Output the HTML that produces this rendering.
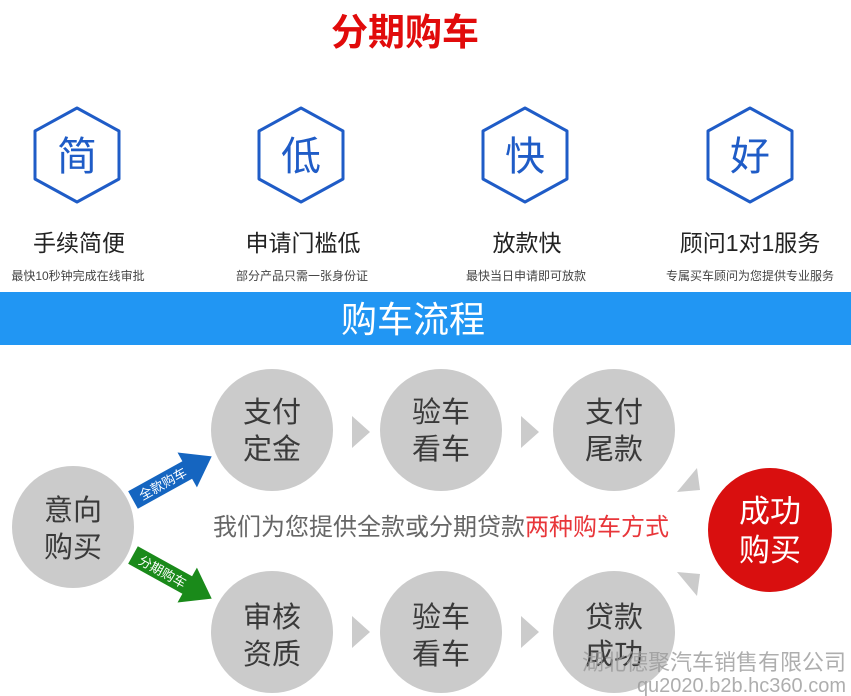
<!DOCTYPE html>
<html><head><meta charset="utf-8"><style>
body{margin:0;width:851px;height:696px;overflow:hidden;background:#fff;font-family:"Liberation Sans","Noto Sans CJK SC",sans-serif;}
</style></head><body>
<svg width="851" height="696" xmlns="http://www.w3.org/2000/svg" style="position:absolute;left:0;top:0" font-family="Liberation Sans, Noto Sans CJK SC, sans-serif">
<text x="405" y="45" text-anchor="middle" font-size="37" font-weight="bold" fill="#e10b0b">分期购车</text>
<g fill="none" stroke="#1f5cc7" stroke-width="3" stroke-linejoin="round">
<polygon points="77,108 119,131 119,179 77,202 35,179 35,131"/>
<polygon points="301,108 343,131 343,179 301,202 259,179 259,131"/>
<polygon points="525,108 567,131 567,179 525,202 483,179 483,131"/>
<polygon points="750,108 792,131 792,179 750,202 708,179 708,131"/>
</g>
<g font-size="40" fill="#1f5cc7" text-anchor="middle">
<text x="77" y="170">简</text><text x="301" y="170">低</text><text x="525" y="170">快</text><text x="750" y="170">好</text>
</g>
<g font-size="23" fill="#222" text-anchor="middle">
<text x="79" y="251">手续简便</text><text x="303" y="251">申请门槛低</text><text x="527" y="251">放款快</text><text x="750" y="251">顾问1对1服务</text>
</g>
<g font-size="12" fill="#444" text-anchor="middle">
<text x="78" y="280">最快10秒钟完成在线审批</text><text x="302" y="280">部分产品只需一张身份证</text><text x="526" y="280">最快当日申请即可放款</text><text x="750" y="280">专属买车顾问为您提供专业服务</text>
</g>
<rect x="0" y="292" width="851" height="53" fill="#2196f3"/>
<text x="413" y="332" text-anchor="middle" font-size="36" fill="#fff">购车流程</text>
<g fill="#cbcbcb">
<circle cx="73" cy="527" r="61"/>
<circle cx="272" cy="430" r="61"/><circle cx="441" cy="430" r="61"/><circle cx="614" cy="430" r="61"/>
<circle cx="272" cy="632" r="61"/><circle cx="441" cy="632" r="61"/><circle cx="614" cy="632" r="61"/>
<polygon points="352,416 370,432 352,448"/><polygon points="521,416 539,432 521,448"/>
<polygon points="352,616 370,632 352,648"/><polygon points="521,616 539,632 521,648"/>
<polygon points="697,468 677,492 700,490"/><polygon points="677,572 697,596 700,574"/>
</g>
<circle cx="770" cy="530" r="62" fill="#d90f0f"/>
<g font-size="29" fill="#3a3a3a" text-anchor="middle">
<text x="73" y="520">意向</text><text x="73" y="557">购买</text>
<text x="272" y="422">支付</text><text x="272" y="459">定金</text>
<text x="441" y="422">验车</text><text x="441" y="459">看车</text>
<text x="614" y="422">支付</text><text x="614" y="459">尾款</text>
<text x="272" y="627">审核</text><text x="272" y="664">资质</text>
<text x="441" y="627">验车</text><text x="441" y="664">看车</text>
<text x="614" y="627">贷款</text><text x="614" y="664">成功</text>
</g>
<g font-size="31" fill="#fff" text-anchor="middle"><text x="770" y="522">成功</text><text x="770" y="561">购买</text></g>
<text x="213" y="535" font-size="24" fill="#666">我们为您提供全款或分期贷款<tspan fill="#e8363a">两种购车方式</tspan></text>
<g transform="translate(133,500) rotate(-29)">
<polygon points="0,-10 62,-10 62,-20 90,0 62,20 62,10 0,10" fill="#1565c0"/>
<text x="34" y="5" font-size="13" fill="#fff" text-anchor="middle">全款购车</text>
</g>
<g transform="translate(133,555) rotate(29)">
<polygon points="0,-10 62,-10 62,-20 90,0 62,20 62,10 0,10" fill="#1a8a1a"/>
<text x="34" y="5" font-size="13" fill="#fff" text-anchor="middle">分期购车</text>
</g>
<text x="846" y="670" text-anchor="end" font-size="22" fill="#9a9a9a" opacity="0.8">湖北德聚汽车销售有限公司</text>
<text x="846" y="692" text-anchor="end" font-size="20" fill="#9a9a9a" opacity="0.8">qu2020.b2b.hc360.com</text>
</svg>
</body></html>
